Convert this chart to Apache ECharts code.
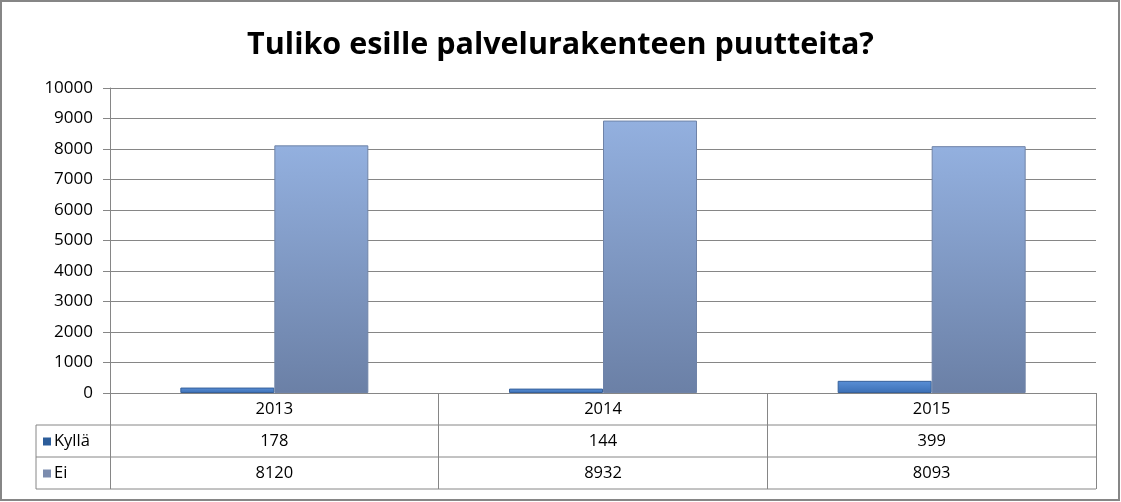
<!DOCTYPE html>
<html>
<head>
<meta charset="utf-8">
<script src="https://cdn.jsdelivr.net/npm/echarts@6/dist/echarts.min.js"></script>
<style>
html,body{margin:0;padding:0;background:#fff;}
#main{width:1121px;height:502px;}
</style>
</head>
<body>
<div id="main"></div>
<script>
var titleText = 'Tuliko esille palvelurakenteen puutteita?';
var categories = ['2013', '2014', '2015'];
var seriesNames = ['Kyllä', 'Ei'];
var kylla = [178, 144, 399];
var ei = [8120, 8932, 8093];
var yTicks = [0, 1000, 2000, 3000, 4000, 5000, 6000, 7000, 8000, 9000, 10000];

var chart = echarts.init(document.getElementById('main'), null, {renderer: 'canvas'});
var W = 1121, H = 502;
var gL = 110, gR = 1096, gT = 88, gB = 393;
var rowH = 32;
var lineCol = '#868686';
var font = 'Open Sans';

function gradient(top, bottom) {
  return new echarts.graphic.LinearGradient(0, 0, 0, 1, [
    {offset: 0, color: top}, {offset: 1, color: bottom}
  ]);
}

var catLabels = categories.map(function (c, i) {
  return c + '\n' + kylla[i] + '\n' + ei[i];
});

function legendFor(name, color, rowIndex) {
  return {
    orient: 'horizontal',
    left: 43,
    top: gB + rowH * rowIndex + rowH / 2 - 8,
    itemWidth: 8,
    itemHeight: 8,
    itemGap: 0,
    padding: 0,
    icon: 'rect',
    selectedMode: false,
    textStyle: {fontFamily: font, fontSize: 16.5, color: '#000', lineHeight: 16, padding: [0, 0, 0, -2]},
    data: [{name: name, itemStyle: {color: color, borderWidth: 0}}]
  };
}

var option = {
  backgroundColor: '#fff',
  animation: false,
  title: {
    text: titleText,
    left: 'center',
    top: 25,
    textStyle: {fontFamily: 'Open Sans', fontWeight: 'bold', fontSize: 30.5, color: '#000'}
  },
  legend: [
    legendFor(seriesNames[0], '#2c5d9a', 1),
    legendFor(seriesNames[1], '#7b8cae', 2)
  ],
  grid: {left: gL, right: W - gR, top: gT, bottom: H - gB, containLabel: false},
  xAxis: {
    type: 'category',
    data: catLabels,
    axisLine: {show: true, lineStyle: {color: lineCol, width: 1}},
    axisTick: {show: true, interval: 0, length: rowH * 3, lineStyle: {color: lineCol, width: 1}},
    axisLabel: {
      interval: 0, margin: 0, fontFamily: font, fontSize: 16.5, color: '#000',
      lineHeight: rowH, verticalAlign: 'top'
    },
    splitLine: {show: false}
  },
  yAxis: {
    type: 'value',
    min: yTicks[0],
    max: yTicks[yTicks.length - 1],
    interval: yTicks[1] - yTicks[0],
    axisLine: {show: true, lineStyle: {color: lineCol, width: 1}},
    axisTick: {show: true, length: 7, lineStyle: {color: lineCol}},
    axisLabel: {margin: 17, fontFamily: font, fontSize: 17, color: '#000', formatter: function (v) { return String(v); }},
    splitLine: {show: true, lineStyle: {color: lineCol, width: 1}}
  },
  series: [
    {
      name: seriesNames[0],
      type: 'bar',
      data: kylla,
      barWidth: 94,
      barGap: '0%',
      itemStyle: {color: gradient('#5a8fd6', '#3b6fb5'), borderColor: '#36609a', borderWidth: 1}
    },
    {
      name: seriesNames[1],
      type: 'bar',
      data: ei,
      barWidth: 94,
      barGap: '0%',
      itemStyle: {color: gradient('#93b0df', '#6b80a6'), borderColor: '#6f83a8', borderWidth: 1}
    }
  ],
  graphic: [
    {type: 'rect', shape: {x: 1, y: 1, width: W - 3, height: H - 3}, style: {fill: 'none', stroke: '#868686', lineWidth: 2}, silent: true},
    {type: 'line', shape: {x1: 36, y1: gB + rowH, x2: gR, y2: gB + rowH}, style: {stroke: lineCol, lineWidth: 1}, silent: true},
    {type: 'line', shape: {x1: 36, y1: gB + rowH * 2, x2: gR, y2: gB + rowH * 2}, style: {stroke: lineCol, lineWidth: 1}, silent: true},
    {type: 'line', shape: {x1: 36, y1: gB + rowH * 3, x2: gR, y2: gB + rowH * 3}, style: {stroke: lineCol, lineWidth: 1}, silent: true},
    {type: 'line', shape: {x1: 36, y1: gB + rowH, x2: 36, y2: gB + rowH * 3}, style: {stroke: lineCol, lineWidth: 1}, silent: true}
  ]
};
chart.setOption(option);
</script>
</body>
</html>
